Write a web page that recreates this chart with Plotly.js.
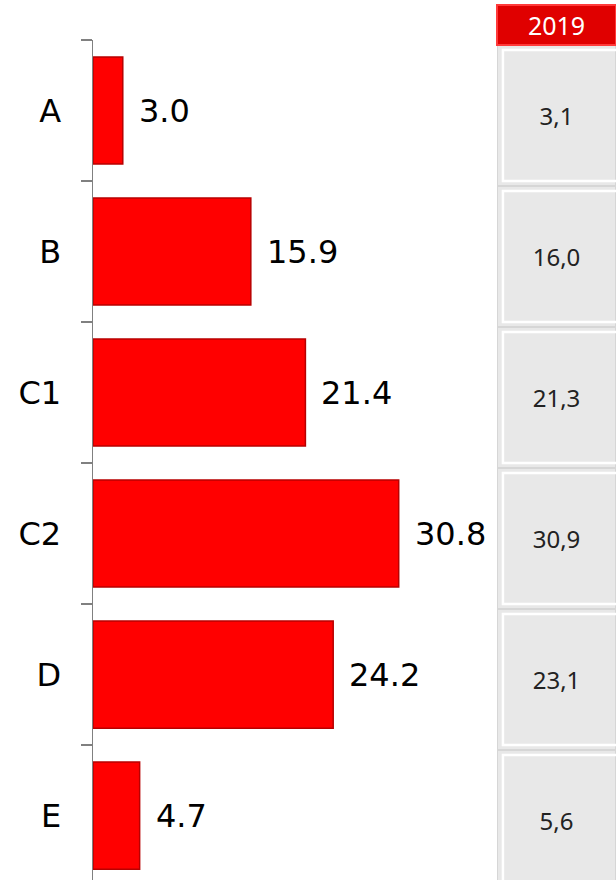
<!DOCTYPE html>
<html>
<head>
<meta charset="utf-8">
<script src="https://cdn.plot.ly/plotly-3.0.1.min.js"></script>
<style>html,body{margin:0;padding:0;background:#fff;}#chart{width:616px;height:880px;}</style>
</head>
<body>
<div id="chart"></div>
<script>
const categories = ['A', 'B', 'C1', 'C2', 'D', 'E'];
const values = [3.0, 15.9, 21.4, 30.8, 24.2, 4.7];
const tableHeader = '2019';
const values2019 = [3.1, 16.0, 21.3, 30.9, 23.1, 5.6];

const barTrace = {
  type: 'bar', orientation: 'h',
  x: values, y: categories,
  xaxis: 'x', yaxis: 'y',
  width: 0.76,
  marker: {color: '#ff0000', line: {color: '#b80000', width: 1.5}},
  hoverinfo: 'skip'
};

const tableTrace = {
  type: 'bar', orientation: 'h',
  x: categories.map(() => 1), y: categories,
  xaxis: 'x2', yaxis: 'y2',
  width: 1,
  marker: {color: '#e8e8e8', line: {color: '#d6d6d6', width: 2}},
  text: values2019.map(v => v.toFixed(1).replace('.', ',')),
  textposition: 'inside', insidetextanchor: 'middle',
  textfont: {family: 'Noto Sans', size: 24, color: '#222'},
  hoverinfo: 'skip'
};

const bevelTrace = {
  type: 'bar', orientation: 'h',
  x: categories.map(() => 1), y: categories, base: 0.05,
  xaxis: 'x2', yaxis: 'y2',
  width: 0.93,
  marker: {color: 'rgba(0,0,0,0)', line: {color: '#ffffff', width: 2.5}},
  hoverinfo: 'skip'
};

const annotations = values.map((v, i) => ({
  x: v, y: categories[i], xref: 'x', yref: 'y',
  text: v.toFixed(1), showarrow: false,
  xanchor: 'left', yanchor: 'middle', xshift: 14,
  font: {family: 'DejaVu Sans', size: 32, color: '#000'}
}));
annotations.push({
  x: 0.5, y: 1 - 25/880, xref: 'x2 domain', yref: 'paper',
  text: tableHeader, showarrow: false,
  xanchor: 'center', yanchor: 'middle',
  width: 117, height: 38,
  bgcolor: '#e00000', bordercolor: '#ff3a3a', borderwidth: 2, borderpad: 0,
  font: {family: 'Noto Sans', size: 25, color: '#fff'}
});

const layout = {
  width: 616, height: 880,
  margin: {l: 0, r: 0, t: 0, b: 0},
  paper_bgcolor: '#fff', plot_bgcolor: '#fff',
  showlegend: false,
  xaxis: {domain: [93/616, 493/616], range: [0, 40.3], visible: false, fixedrange: true},
  yaxis: {
    domain: [0, 1 - 40/880], type: 'category',
    categoryorder: 'array', categoryarray: categories,
    range: [5.457, -0.5],
    showline: true, linecolor: '#808080', linewidth: 1.5,
    ticks: 'outside', tickson: 'boundaries', ticklen: 11, tickcolor: '#808080', tickwidth: 1.5,
    ticklabelstandoff: 24,
    showgrid: false, zeroline: false, automargin: false,
    tickfont: {family: 'DejaVu Sans', size: 32, color: '#000'}
  },
  xaxis2: {domain: [497/616, 1], range: [0, 1], visible: false, anchor: 'y2', fixedrange: true},
  yaxis2: {
    domain: [0, 1 - 45/880], type: 'category', anchor: 'x2',
    categoryorder: 'array', categoryarray: categories,
    range: [5.422, -0.5], visible: false
  },
  barmode: 'overlay',
  annotations: annotations,
  font: {family: 'DejaVu Sans'}
};

Plotly.newPlot('chart', [barTrace, tableTrace, bevelTrace], layout, {displayModeBar: false, staticPlot: true});
</script>
</body>
</html>
